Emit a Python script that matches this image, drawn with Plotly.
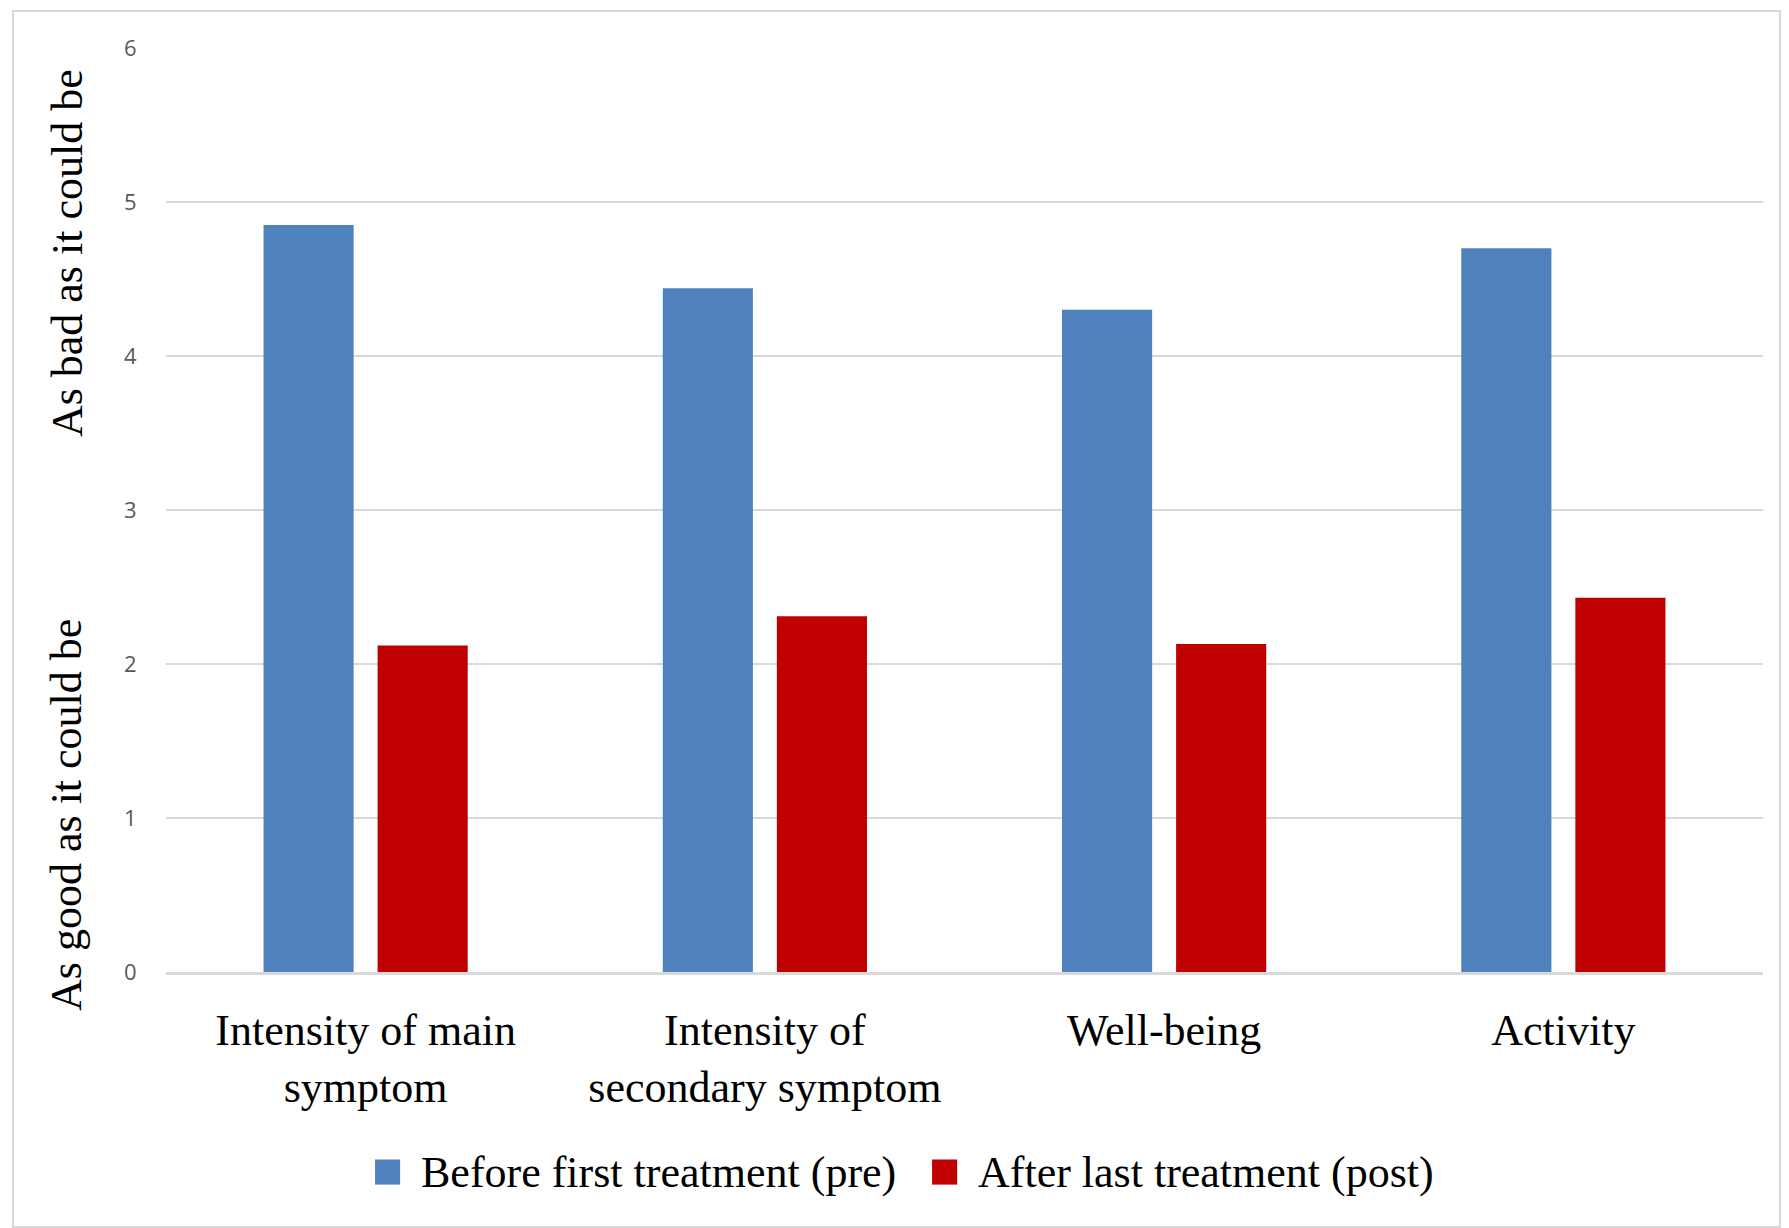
import plotly.graph_objects as go

categories = ["Intensity of main<br>symptom", "Intensity of<br>secondary symptom", "Well-being", "Activity"]
pre_values = [4.85, 4.44, 4.30, 4.70]
post_values = [2.12, 2.31, 2.13, 2.43]
series_names = ["Before first treatment (pre)", "After last treatment (post)"]
series_colors = ["#4f81bd", "#c00000"]
y_ticks = [0, 1, 2, 3, 4, 5, 6]

SERIF = "Liberation Serif, Times New Roman, serif"
FS = 44

fig = go.Figure()
fig.add_trace(go.Bar(x=categories, y=pre_values, name=series_names[0], showlegend=False,
                     marker=dict(color=series_colors[0], line=dict(width=0))))
fig.add_trace(go.Bar(x=categories, y=post_values, name=series_names[1], showlegend=False,
                     marker=dict(color=series_colors[1], line=dict(width=0))))

fig.update_layout(
    width=1789, height=1228,
    margin=dict(l=166, r=26, t=48, b=256),
    paper_bgcolor="white", plot_bgcolor="white",
    barmode="group", bargap=0.4286, bargroupgap=0.21,
    showlegend=False,
    xaxis=dict(showgrid=False, showline=True, linecolor="#d9d9d9", linewidth=3,
               ticks="outside", ticklen=17, tickcolor="rgba(0,0,0,0)",
               tickfont=dict(family=SERIF, size=FS, color="black")),
    yaxis=dict(range=[0, 6], tickvals=y_ticks, showgrid=True, gridcolor="#d9d9d9", gridwidth=2,
               zeroline=False, showline=False,
               ticks="outside", ticklen=24, tickcolor="rgba(0,0,0,0)",
               tickfont=dict(family="Open Sans, sans-serif", size=22, color="#595959")),
)

fig.add_annotation(text="As bad as it could be", xref="paper", yref="paper",
                   x=-0.062, y=0.778, xanchor="center", yanchor="middle", textangle=-90,
                   showarrow=False, font=dict(family=SERIF, size=FS, color="black"))
fig.add_annotation(text="As good as it could be", xref="paper", yref="paper",
                   x=-0.062, y=0.170, xanchor="center", yanchor="middle", textangle=-90,
                   showarrow=False, font=dict(family=SERIF, size=FS, color="black"))

# legend drawn manually (larger swatches than plotly's legend allows)
legend_y = -0.2165
swatch_x = [0.1309, 0.4797]
for name, color, sx in zip(series_names, series_colors, swatch_x):
    fig.add_shape(type="rect", xref="paper", yref="paper",
                  x0=sx, x1=sx + 0.0157, y0=legend_y - 0.0136, y1=legend_y + 0.0136,
                  line=dict(width=0), fillcolor=color)
    fig.add_annotation(text=name, xref="paper", yref="paper",
                       x=sx + 0.0275, y=legend_y, xanchor="left", yanchor="middle",
                       showarrow=False, font=dict(family=SERIF, size=FS, color="black"))

fig.add_shape(type="rect", xref="paper", yref="paper",
              x0=-0.0958, x1=1.0106, y0=-0.276, y1=1.040,
              line=dict(color="#d9d9d9", width=2), fillcolor="rgba(0,0,0,0)", layer="below")

fig.write_html("out.html", config={"displayModeBar": False},
               post_script="document.body.style.margin='0px';")
